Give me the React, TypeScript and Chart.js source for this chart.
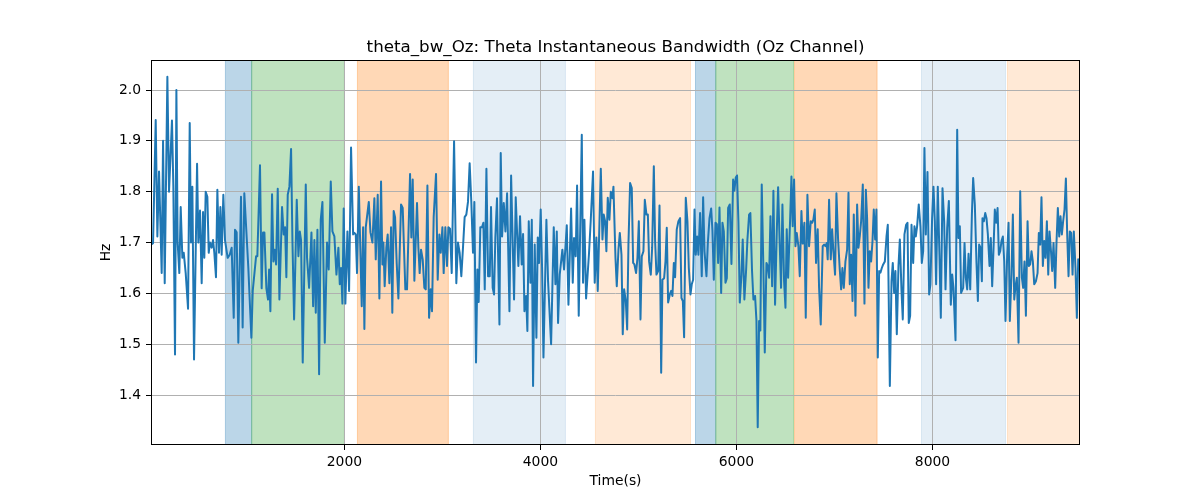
import React, { useEffect, useRef } from "react";
import { Chart, registerables } from "chart.js";

Chart.register(...registerables);

// [time (s), bandwidth (Hz)]
const seg1 = [[27,1.696],[48,1.699],[75,1.941],[92,1.712],[109,1.84],[136,1.64],[150,1.90],[167,1.62],[194,2.026],[211,1.80],[241,1.94],[255,1.81],[272,1.48],[286,2.0],[299,1.70],[316,1.64],[330,1.77],[347,1.67],[361,1.68],[381,1.64],[405,1.57],[422,1.935],[435,1.70],[449,1.81],[466,1.47],[497,1.855],[510,1.70],[527,1.763],[544,1.62],[558,1.76],[571,1.67],[585,1.80],[602,1.79],[616,1.68],[629,1.70],[646,1.69],[660,1.705],[673,1.68],[690,1.632],[704,1.804],[721,1.68],[735,1.77],[748,1.676],[765,1.794],[782,1.705],[809,1.67],[830,1.676],[850,1.69],[871,1.552],[884,1.725],[901,1.72],[918,1.503],[945,1.79],[962,1.533],[979,1.797],[1020,1.65],[1051,1.513],[1065,1.605],[1099,1.673],[1112,1.673],[1139,1.852],[1156,1.61],[1170,1.72],[1184,1.72],[1204,1.61]];
const seg2 = [[1221,1.588],[1232,1.647],[1245,1.565],[1262,1.795],[1276,1.663],[1289,1.686],[1303,1.657],[1320,1.806],[1337,1.588],[1364,1.77],[1381,1.716],[1395,1.73],[1408,1.632],[1422,1.794],[1439,1.81],[1456,1.884],[1470,1.703],[1487,1.549],[1514,1.784],[1531,1.673],[1545,1.722],[1558,1.705],[1575,1.464],[1606,1.814],[1619,1.67],[1640,1.611],[1664,1.72],[1681,1.575],[1694,1.705],[1708,1.562],[1725,1.725],[1742,1.441],[1759,1.745],[1776,1.78],[1800,1.503],[1823,1.70],[1840,1.647],[1861,1.82],[1878,1.722],[1898,1.712],[1919,1.637],[1939,1.69],[1953,1.618],[1966,1.65],[1980,1.58],[1993,1.767],[2010,1.58],[2031,1.722],[2048,1.605],[2068,1.887],[2089,1.716],[2102,1.719],[2116,1.716],[2129,1.64],[2147,1.81],[2177,1.575],[2191,1.73],[2204,1.53],[2218,1.73],[2249,1.78],[2266,1.72],[2286,1.70],[2306,1.787],[2320,1.667],[2340,1.794],[2357,1.59],[2374,1.82],[2388,1.657]];
const seg3 = [[2398,1.70],[2411,1.614],[2428,1.69],[2442,1.716],[2459,1.62],[2476,1.73],[2489,1.562],[2503,1.762],[2517,1.75],[2534,1.659],[2551,1.59],[2578,1.775],[2595,1.768],[2608,1.69],[2622,1.608],[2639,1.608],[2653,1.712],[2670,1.835],[2683,1.71],[2697,1.824],[2714,1.625],[2741,1.778],[2755,1.69],[2768,1.64],[2782,1.686],[2799,1.667],[2816,1.611],[2830,1.608],[2847,1.812],[2864,1.552],[2881,1.608],[2894,1.565],[2911,1.75],[2935,1.835],[2952,1.627],[2969,1.716],[2983,1.68],[3000,1.73],[3013,1.64],[3030,1.73],[3047,1.654],[3061,1.73],[3078,1.727],[3095,1.64],[3119,1.899],[3142,1.62],[3159,1.70],[3176,1.68],[3193,1.634],[3210,1.69],[3227,1.75],[3244,1.755],[3261,1.78],[3278,1.856],[3295,1.78],[3312,1.68],[3326,1.78],[3343,1.464],[3357,1.647],[3370,1.583],[3387,1.73],[3404,1.73],[3418,1.739],[3432,1.608],[3449,1.845],[3466,1.634],[3483,1.634],[3496,1.77],[3513,1.611],[3527,1.598],[3540,1.71],[3557,1.787]];
const seg4 = [[3582,1.539],[3595,1.876],[3609,1.712],[3626,1.778],[3643,1.722],[3660,1.797],[3684,1.565],[3701,1.832],[3731,1.588],[3748,1.789],[3775,1.654],[3792,1.752],[3809,1.657],[3823,1.717],[3837,1.565],[3854,1.595],[3867,1.526],[3881,1.742],[3898,1.621],[3912,1.745],[3925,1.418],[3942,1.696],[3959,1.513],[3973,1.71],[3986,1.66],[4003,1.765],[4017,1.65],[4031,1.474],[4061,1.745],[4078,1.624],[4109,1.5],[4136,1.73],[4153,1.618],[4167,1.722],[4180,1.542],[4197,1.637],[4224,1.686],[4241,1.647],[4269,1.734],[4286,1.578],[4313,1.767],[4330,1.621],[4343,1.709],[4360,1.673],[4374,1.812],[4391,1.556],[4422,1.912],[4435,1.621],[4449,1.745],[4466,1.59],[4496,1.68],[4513,1.742],[4537,1.84],[4554,1.621],[4571,1.71],[4585,1.605],[4616,1.845],[4633,1.706],[4646,1.755],[4660,1.742],[4673,1.683],[4687,1.788],[4704,1.745],[4718,1.8],[4735,1.787],[4745,1.81]];
const seg5 = [[4766,1.669],[4779,1.614],[4796,1.686],[4810,1.719],[4827,1.676],[4840,1.52],[4854,1.608],[4871,1.585],[4885,1.529],[4898,1.696],[4915,1.817],[4932,1.807],[4946,1.66],[4959,1.657],[4976,1.64],[4990,1.67],[5004,1.742],[5021,1.549],[5034,1.673],[5051,1.683],[5065,1.784],[5082,1.755],[5096,1.755],[5109,1.663],[5126,1.637],[5140,1.69],[5157,1.85],[5170,1.703],[5184,1.637],[5201,1.644],[5215,1.773],[5232,1.444],[5245,1.627],[5262,1.63],[5276,1.663],[5289,1.729],[5303,1.582],[5320,1.598],[5334,1.605],[5347,1.595],[5361,1.66],[5374,1.632],[5391,1.726],[5408,1.742],[5425,1.748],[5439,1.591],[5453,1.585],[5466,1.514],[5483,1.788],[5500,1.742],[5514,1.65],[5531,1.598],[5544,1.618],[5558,1.627],[5572,1.765],[5585,1.676],[5599,1.712],[5612,1.676],[5629,1.758],[5646,1.634],[5660,1.789],[5674,1.683],[5694,1.634],[5708,1.699],[5725,1.748],[5742,1.767],[5755,1.724],[5769,1.627],[5786,1.739],[5800,1.736],[5813,1.66],[5827,1.769],[5844,1.601],[5857,1.739],[5871,1.722],[5888,1.621],[5902,1.63],[5915,1.768],[5932,1.775]];
const seg6 = [[5949,1.658],[5966,1.824],[5979,1.802],[5993,1.828],[6006,1.832],[6020,1.742],[6034,1.582],[6051,1.637],[6064,1.706],[6081,1.588],[6098,1.644],[6112,1.706],[6129,1.755],[6142,1.758],[6159,1.644],[6173,1.588],[6190,1.595],[6204,1.546],[6217,1.337],[6231,1.546],[6244,1.527],[6258,1.814],[6275,1.647],[6289,1.484],[6306,1.66],[6319,1.654],[6333,1.631],[6347,1.752],[6364,1.614],[6377,1.802],[6394,1.578],[6411,1.719],[6425,1.809],[6442,1.693],[6455,1.611],[6469,1.775],[6486,1.624],[6500,1.572],[6513,1.726],[6527,1.631],[6547,1.742],[6561,1.83],[6574,1.732],[6588,1.824],[6602,1.693],[6615,1.719],[6632,1.693],[6646,1.634],[6663,1.762],[6676,1.698],[6693,1.739],[6707,1.552],[6724,1.794],[6741,1.693],[6758,1.742],[6772,1.739],[6785,1.745],[6799,1.765],[6812,1.66],[6829,1.726],[6843,1.611],[6860,1.539],[6880,1.693],[6894,1.696],[6908,1.693],[6921,1.699],[6931,1.667],[6945,1.784],[6962,1.667],[6976,1.726],[6989,1.683],[7006,1.637],[7020,1.797],[7037,1.706],[7054,1.647],[7068,1.608],[7081,1.65],[7095,1.611],[7112,1.663]];
const seg7 = [[7129,1.686],[7143,1.798],[7156,1.618],[7170,1.676],[7184,1.585],[7197,1.755],[7214,1.556],[7231,1.775],[7245,1.69],[7258,1.712],[7272,1.742],[7289,1.814],[7306,1.58],[7320,1.804],[7333,1.748],[7347,1.611],[7360,1.683],[7374,1.663],[7388,1.703],[7401,1.765],[7415,1.706],[7428,1.765],[7442,1.474],[7456,1.644],[7469,1.641],[7483,1.65],[7497,1.657],[7514,1.663],[7531,1.712],[7544,1.735],[7565,1.418],[7582,1.624],[7595,1.66],[7609,1.601],[7622,1.644],[7636,1.52],[7653,1.654],[7667,1.706],[7684,1.605],[7697,1.549],[7714,1.716],[7731,1.735],[7745,1.739],[7758,1.542],[7772,1.556],[7786,1.735],[7803,1.66],[7816,1.732],[7830,1.712],[7843,1.732],[7860,1.775],[7877,1.732],[7891,1.66],[7905,1.683],[7918,1.886],[7932,1.716],[7949,1.839],[7966,1.598],[7979,1.618],[7996,1.748],[8010,1.81],[8024,1.742],[8037,1.618],[8054,1.81],[8071,1.676],[8085,1.552],[8102,1.807],[8119,1.742],[8133,1.608],[8150,1.729],[8167,1.782],[8187,1.578],[8201,1.637],[8214,1.611],[8235,1.508],[8252,1.922],[8265,1.709],[8279,1.732],[8292,1.601]];
const seg8 = [[8313,1.611],[8327,1.699],[8340,1.631],[8354,1.608],[8368,1.678],[8385,1.608],[8402,1.755],[8415,1.827],[8432,1.775],[8449,1.66],[8463,1.585],[8476,1.696],[8490,1.69],[8504,1.624],[8510,1.748],[8524,1.742],[8538,1.758],[8551,1.748],[8565,1.716],[8582,1.654],[8595,1.709],[8609,1.614],[8623,1.69],[8636,1.765],[8650,1.739],[8664,1.768],[8677,1.676],[8691,1.683],[8704,1.703],[8718,1.712],[8732,1.663],[8745,1.546],[8762,1.676],[8776,1.739],[8789,1.546],[8806,1.637],[8820,1.755],[8834,1.588],[8847,1.614],[8861,1.631],[8878,1.503],[8895,1.801],[8912,1.631],[8925,1.611],[8939,1.663],[8953,1.556],[8970,1.742],[8983,1.654],[8997,1.657],[9010,1.683],[9024,1.663],[9038,1.618],[9055,1.624],[9072,1.64],[9085,1.719],[9099,1.696],[9112,1.789],[9126,1.654],[9140,1.703],[9153,1.67],[9167,1.742],[9181,1.637],[9194,1.722],[9208,1.686],[9221,1.644],[9235,1.699],[9252,1.611],[9265,1.699],[9279,1.768],[9293,1.712],[9306,1.752],[9320,1.716],[9333,1.742],[9347,1.765],[9361,1.826],[9374,1.719],[9388,1.634],[9401,1.722],[9415,1.719],[9429,1.637],[9442,1.722],[9459,1.65],[9473,1.552],[9487,1.667],[9500,1.663]];

// shaded intervals
const bandStarts = [786, 1054, 2133, 3316, 4561, 5582, 5789, 6592, 7888, 8765];
const bandEnds = [1054, 2000, 3061, 4255, 5531, 5789, 6582, 7435, 8745, 9700];
const bandColors = [
  "rgba(31,119,180,0.3)",
  "rgba(44,160,44,0.3)",
  "rgba(255,127,14,0.3)",
  "rgba(31,119,180,0.12)",
  "rgba(255,127,14,0.17)",
  "rgba(31,119,180,0.3)",
  "rgba(44,160,44,0.3)",
  "rgba(255,127,14,0.3)",
  "rgba(31,119,180,0.12)",
  "rgba(255,127,14,0.17)",
];

const xTicks = [2000, 4000, 6000, 8000];
const yTicks = [1.4, 1.5, 1.6, 1.7, 1.8, 1.9, 2.0];
const xMin = 27;
const xMax = 9505;
const yMin = 1.302;
const yMax = 2.059;

const TITLE = "theta_bw_Oz: Theta Instantaneous Bandwidth (Oz Channel)";
const X_LABEL = "Time(s)";
const Y_LABEL = "Hz";
const FONT = "'DejaVu Sans', sans-serif";

const bandsPlugin = {
  id: "bands",
  beforeDraw(chart: any) {
    const { ctx, chartArea, scales } = chart;
    ctx.save();
    ctx.fillStyle = "#ffffff";
    ctx.fillRect(0, 0, chart.width, chart.height);
    ctx.beginPath();
    ctx.rect(chartArea.left, chartArea.top, chartArea.right - chartArea.left, chartArea.bottom - chartArea.top);
    ctx.clip();
    for (let i = 0; i < bandStarts.length; i++) {
      const x0 = scales.x.getPixelForValue(bandStarts[i]);
      const x1 = scales.x.getPixelForValue(bandEnds[i]);
      ctx.fillStyle = bandColors[i];
      ctx.fillRect(x0, chartArea.top, x1 - x0, chartArea.bottom - chartArea.top);
      ctx.strokeStyle = bandColors[i];
      ctx.lineWidth = 1;
      ctx.strokeRect(x0, chartArea.top, x1 - x0, chartArea.bottom - chartArea.top);
    }
    ctx.restore();
  },
  afterDraw(chart: any) {
    const { ctx, chartArea } = chart;
    ctx.save();
    ctx.strokeStyle = "#000000";
    ctx.lineWidth = 1;
    ctx.strokeRect(
      Math.round(chartArea.left) + 0.5,
      Math.round(chartArea.top) + 0.5,
      Math.round(chartArea.right - chartArea.left) - 1,
      Math.round(chartArea.bottom - chartArea.top) - 1
    );
    ctx.fillStyle = "#000000";
    const cx = (chartArea.left + chartArea.right) / 2;
    ctx.font = `16.7px ${FONT}`;
    ctx.textAlign = "center";
    ctx.textBaseline = "alphabetic";
    ctx.fillText(TITLE, cx, 52);
    ctx.font = `13.9px ${FONT}`;
    ctx.textBaseline = "middle";
    ctx.fillText(X_LABEL, cx, 481);
    ctx.translate(106, (chartArea.top + chartArea.bottom) / 2);
    ctx.rotate(-Math.PI / 2);
    ctx.fillText(Y_LABEL, 0, 0);
    ctx.restore();
  },
};

export default function App() {
  const ref = useRef<HTMLCanvasElement | null>(null);
  useEffect(() => {
    if (!ref.current) return;
    const points = [...seg1, ...seg2, ...seg3, ...seg4, ...seg5, ...seg6, ...seg7, ...seg8].map((p) => ({ x: p[0], y: p[1] }));
    const chart = new Chart(ref.current, {
      type: "line",
      data: {
        datasets: [
          {
            data: points,
            borderColor: "#1f77b4",
            borderWidth: 2,
            pointRadius: 0,
            tension: 0,
            fill: false,
            borderJoinStyle: "round",
          },
        ],
      },
      options: {
        responsive: false,
        animation: false,
        events: [],
        layout: { padding: { top: 60, right: 120, left: 0, bottom: 0 } },
        plugins: { legend: { display: false }, title: { display: false }, tooltip: { enabled: false } },
        scales: {
          x: {
            type: "linear",
            min: xMin,
            max: xMax,
            afterBuildTicks: (s: any) => {
              s.ticks = xTicks.map((v) => ({ value: v }));
            },
            afterFit: (s: any) => {
              s.height = 55;
            },
            grid: { color: "#b0b0b0", lineWidth: 1, drawTicks: true, tickLength: 5, tickColor: "#000000" },
            border: { display: false },
            ticks: {
              autoSkip: false,
              maxRotation: 0,
              padding: 4,
              color: "#000000",
              font: { family: FONT, size: 13.9 },
              callback: (v: any) => String(v),
            },
          },
          y: {
            type: "linear",
            min: yMin,
            max: yMax,
            afterBuildTicks: (s: any) => {
              s.ticks = yTicks.map((v) => ({ value: v }));
            },
            afterFit: (s: any) => {
              s.width = 151;
            },
            grid: { color: "#b0b0b0", lineWidth: 1, drawTicks: true, tickLength: 5, tickColor: "#000000" },
            border: { display: false },
            ticks: {
              autoSkip: false,
              padding: 5,
              color: "#000000",
              font: { family: FONT, size: 13.9 },
              callback: (v: any) => Number(v).toFixed(1),
            },
          },
        },
      },
      plugins: [bandsPlugin],
    });
    return () => chart.destroy();
  }, []);
  return (
    <div style={{ position: "absolute", left: 0, top: 0, width: 1200, height: 500 }}>
      <canvas ref={ref} width={1200} height={500} style={{ display: "block", width: 1200, height: 500 }} />
    </div>
  );
}
